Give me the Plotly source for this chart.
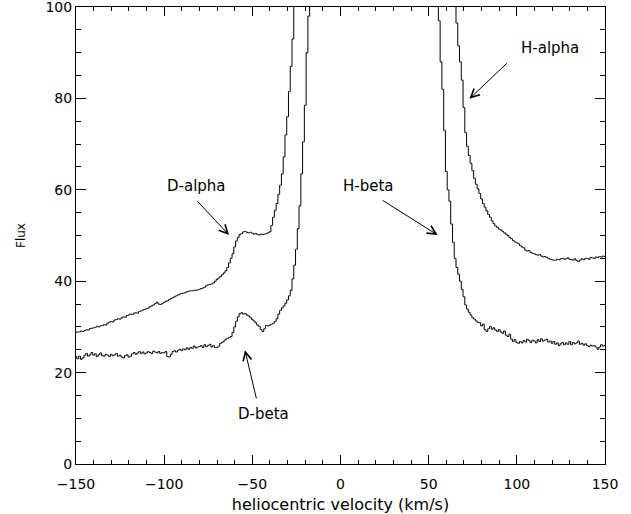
import plotly.graph_objects as go

# velocity bins (km/s)
velocity = list(range(-150, 151))

# H-alpha flux (upper curve, with D-alpha shoulder)
h_alpha = [
    28.8, 28.9, 28.9, 29.1, 29.0, 29.2, 29.4, 29.3, 29.6, 29.7,
    29.8, 29.9, 30.1, 30.0, 30.2, 30.3, 30.5, 30.4, 30.8, 31.0,
    31.2, 31.1, 31.5, 31.6, 31.8, 31.7, 32.0, 32.2, 32.1, 32.5,
    32.6, 32.8, 32.7, 33.0, 33.1, 33.0, 33.4, 33.5, 33.7, 33.8,
    34.0, 34.1, 34.4, 34.6, 34.8, 35.1, 35.4, 35.0, 34.9, 35.1,
    35.4, 35.6, 35.7, 36.0, 36.2, 36.4, 36.6, 36.8, 37.0, 37.2,
    37.3, 37.4, 37.5, 37.7, 37.8, 37.9, 37.9, 38.0, 38.0, 38.1,
    38.2, 38.4, 38.5, 38.7, 39.0, 39.2, 39.3, 39.4, 39.6, 40.0,
    40.4, 40.7, 41.0, 41.4, 41.8, 42.3, 43.0, 44.0, 45.0, 46.0,
    47.5, 48.8, 49.6, 50.2, 50.4, 50.8, 50.9, 50.7, 50.6, 50.7,
    50.5, 50.3, 50.4, 50.2, 50.1, 50.3, 50.2, 50.3, 50.4, 50.6,
    50.8, 52.2, 54.0, 55.5, 57.0, 59.0, 61.0, 63.5, 67.2, 72.0,
    76.0, 81.5, 87.0, 93.0, 104, 118, 135, 155, 175, 200,
    225, 250, 280, 310, 340, 370, 400, 430, 460, 490,
    520, 550, 580, 610, 640, 670, 700, 720, 740, 760,
    780, 800, 815, 830, 840, 850, 860, 865, 870, 875,
    880, 882, 884, 885, 886, 886, 885, 884, 882, 880,
    875, 870, 865, 860, 850, 840, 830, 815, 800, 780,
    760, 740, 720, 700, 670, 640, 610, 580, 550, 520,
    490, 460, 430, 400, 370, 340, 310, 280, 250, 225,
    200, 185, 170, 160, 150, 142, 135, 128, 122, 117,
    113, 110, 108, 106, 104, 101, 96.5, 91.5, 88.0, 84.0,
    78.0, 72.5, 69.5, 67.5, 65.8, 64.2, 62.5, 61.2, 60.2, 59.2,
    58.0, 57.0, 56.2, 55.4, 54.6, 54.0, 53.2, 52.6, 52.1, 51.8,
    51.4, 51.2, 50.9, 50.6, 50.3, 50.0, 49.6, 49.3, 48.9, 48.6,
    48.4, 48.2, 47.8, 47.5, 47.3, 46.8, 46.6, 46.7, 46.3, 46.1,
    46.0, 45.8, 45.7, 45.8, 45.5, 45.3, 45.4, 45.2, 45.0, 44.8,
    44.7, 44.6, 44.6, 44.8, 44.7, 44.9, 45.0, 44.8, 44.9, 45.1,
    44.8, 44.7, 44.6, 44.9, 44.5, 44.3, 44.6, 44.9, 44.7, 45.0,
    45.0, 44.8, 45.2, 45.1, 45.0, 45.3, 45.2, 45.4, 45.3, 45.5, 45.4,
]

# H-beta flux (lower curve, with D-beta bump)
h_beta = [
    23.5, 23.0, 23.6, 22.9, 23.2, 23.8, 24.2, 23.6, 23.9, 24.4,
    23.8, 24.1, 23.5, 23.9, 24.3, 23.7, 23.6, 24.0, 23.8, 23.5,
    24.0, 23.7, 23.9, 24.2, 23.6, 23.8, 23.4, 23.2, 23.7, 23.9,
    23.4, 23.6, 24.1, 24.4, 24.0, 24.3, 24.6, 24.2, 24.5, 24.1,
    24.3, 24.6, 24.4, 24.2, 24.7, 24.5, 24.3, 24.6, 24.2, 24.4,
    24.3, 24.6, 23.5, 23.4, 24.0, 24.6, 24.8, 24.5, 24.9, 25.1,
    24.8, 25.2, 25.0, 25.4, 25.1, 25.5, 25.3, 25.8, 25.4, 25.6,
    25.7, 25.9, 25.5, 26.1, 25.7, 25.9, 26.2, 25.6, 25.9, 25.5,
    25.5, 25.8, 26.4, 26.6, 26.9, 27.3, 27.5, 27.7, 27.9, 28.8,
    30.0, 31.2, 32.2, 32.9, 33.1, 32.8, 32.9, 32.6, 32.4, 32.0,
    31.6, 31.3, 30.9, 30.4, 30.1, 29.4, 29.0, 29.6, 30.3, 30.2,
    30.4, 30.6, 30.8, 31.2, 31.8, 32.8, 33.6, 34.2, 34.6, 35.2,
    35.9, 36.8, 38.0, 40.5, 43.5, 47.0, 51.5, 56.5, 63.5, 70.5,
    78.5, 90.0, 98.0, 108, 125, 145, 170, 200, 235, 270,
    305, 340, 375, 410, 445, 480, 510, 540, 570, 600,
    625, 650, 670, 690, 705, 720, 730, 740, 748, 755,
    760, 764, 767, 769, 770, 770, 769, 767, 764, 760,
    755, 748, 740, 730, 720, 705, 690, 670, 650, 625,
    600, 570, 540, 510, 480, 445, 410, 375, 340, 305,
    270, 240, 215, 195, 178, 164, 152, 142, 134, 127,
    121, 117, 113, 110, 107, 104, 97.0, 88.0, 82.0, 73.0,
    64.0, 60.0, 57.5, 52.5, 48.5, 45.0, 43.0, 41.5, 40.0, 38.2,
    36.6, 34.8, 33.9, 33.2, 32.6, 32.0, 31.7, 31.3, 31.0, 30.9,
    30.2, 30.6, 29.4, 29.0, 29.6, 30.1, 29.5, 29.8, 29.3, 29.0,
    29.4, 28.9, 28.6, 29.1, 28.2, 27.9, 28.4, 27.3, 26.8, 27.2,
    26.6, 26.4, 26.8, 26.5, 27.0, 26.7, 27.3, 27.0, 26.6, 27.1,
    26.9, 26.5, 27.2, 26.8, 27.4, 26.9, 27.1, 27.3, 26.7, 26.9,
    26.4, 26.8, 26.2, 26.5, 25.9, 26.3, 26.6, 26.1, 26.5, 26.2,
    26.8, 26.1, 26.6, 26.3, 26.5, 26.9, 26.2, 26.4, 26.0, 26.3,
    25.9, 25.7, 26.0, 25.8, 25.9, 25.6, 25.1, 25.6, 26.1, 25.8, 26.0,
]

x_ticks = [-150, -100, -50, 0, 50, 100, 150]
y_ticks = [0, 20, 40, 60, 80, 100]

# labels: (text, text_x, text_y, arrow_tail_x, arrow_tail_y, arrow_tip_x, arrow_tip_y)
labels = [
    ("D-alpha", -81.4, 60.8, -81.9, 57.8, -63.2, 50.1),
    ("D-beta", -43.7, 10.9, -47.5, 14.0, -54.2, 24.9),
    ("H-alpha", 119.0, 91.0, 95.2, 88.0, 73.1, 79.9),
    ("H-beta", 15.8, 60.8, 23.0, 57.9, 55.1, 50.1),
]

FONT = "DejaVu Sans"

fig = go.Figure()
for series in (h_alpha, h_beta):
    fig.add_trace(go.Scatter(
        x=velocity, y=series, mode="lines",
        line=dict(color="black", width=1, shape="hvh"),
        showlegend=False, hoverinfo="skip",
    ))

for text, tx, ty, ax0, ay0, ax1, ay1 in labels:
    fig.add_annotation(x=tx, y=ty, xref="x", yref="y", text=text,
                       showarrow=False, font=dict(family=FONT, size=15, color="black"))
    fig.add_annotation(x=ax1, y=ay1, ax=ax0, ay=ay0, xref="x", yref="y",
                       axref="x", ayref="y", text="", showarrow=True,
                       arrowhead=5, arrowsize=1.7, arrowwidth=1, arrowcolor="black",
                       standoff=0, startstandoff=0)

axis_common = dict(
    showline=True, linecolor="black", linewidth=1, mirror="allticks",
    ticks="inside", tickcolor="black", tickwidth=1,
    showgrid=False, zeroline=False, automargin=False,
    ticklabeloverflow="allow",
    tickfont=dict(family=FONT, size=14, color="black"),
)

fig.update_layout(
    width=631, height=514, autosize=False,
    margin=dict(l=76, r=26, t=7, b=50),
    paper_bgcolor="white", plot_bgcolor="white",
    hovermode=False,
    xaxis=dict(
        range=[-150, 150], tickvals=x_ticks, ticklen=9, ticklabelstandoff=7,
        minor=dict(dtick=10, ticks="inside", ticklen=4, tickcolor="black", tickwidth=1),
        title=dict(text="heliocentric velocity (km/s)", standoff=8,
                   font=dict(family=FONT, size=16, color="black")),
        **axis_common,
    ),
    yaxis=dict(
        range=[0, 100], tickvals=y_ticks, ticklen=10,
        minor=dict(dtick=5, ticks="inside", ticklen=5, tickcolor="black", tickwidth=1),
        title=dict(text="Flux", standoff=17,
                   font=dict(family=FONT, size=12, color="black")),
        **axis_common,
    ),
)

fig.write_html("out.html", config={"displayModeBar": False},
               post_script="document.body.style.margin='0';")
